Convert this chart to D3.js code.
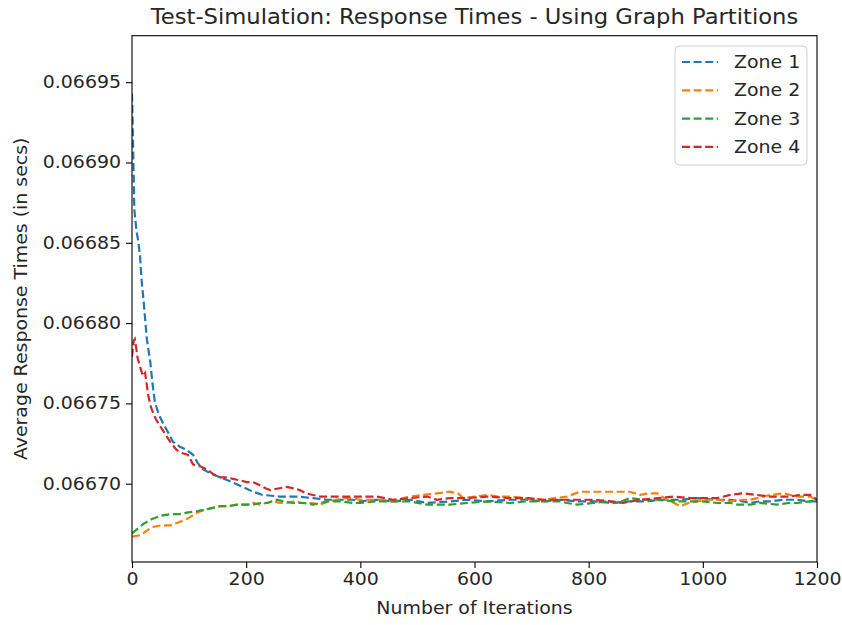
<!DOCTYPE html>
<html><head><meta charset="utf-8">
<script src="https://cdn.jsdelivr.net/npm/d3@7"></script>
<style>
body{margin:0;background:#fff;}
text{font-family:"DejaVu Sans",sans-serif;fill:#262626;}
</style></head>
<body><svg id="c" width="842" height="625"></svg>
<script>
const title = "Test-Simulation: Response Times - Using Graph Partitions";
const xLabel = "Number of Iterations";
const yLabel = "Average Response Times (in secs)";
const xTicks = [0, 200, 400, 600, 800, 1000, 1200];
const yTicks = [0.06670, 0.06675, 0.06680, 0.06685, 0.06690, 0.06695];
const seriesNames = ["Zone 1", "Zone 2", "Zone 3", "Zone 4"];
const seriesColors = ["#1f77b4", "#ff7f0e", "#2ca02c", "#d62728"];

// Zone 1 (blue)
const zone1Iter = [0,2,4,8,11,14,17,20,26,32,36,40,47,54,63,72,84,96,107,115,124,140,154,175,194,212,229,259,289,317,342,387,399,429,457,487,517,557,587,622,662,692,720,750,780,808,840,872,900,930,960,990,1025,1048,1070,1083,1100,1118,1140,1165,1188,1200];
const zone1Val = [0.066943,0.066909,0.066871,0.066857,0.066851,0.066842,0.066826,0.066815,0.066790,0.066776,0.066762,0.066751,0.066743,0.066738,0.066732,0.066726,0.066723,0.066721,0.066718,0.066713,0.066709,0.066706,0.066704,0.066701,0.066698,0.066695,0.066693,0.066692,0.066692,0.066691,0.066690,0.066690,0.066689,0.066690,0.066689,0.066690,0.066688,0.066689,0.066690,0.066689,0.066690,0.066690,0.066689,0.066690,0.066689,0.066689,0.066688,0.066689,0.066689,0.066690,0.066690,0.066691,0.066690,0.066690,0.066689,0.066688,0.066689,0.066689,0.066690,0.066690,0.066689,0.066689];

// Zone 2 (orange)
const zone2Iter = [0,15,35,50,67,82,96,105,114,128,142,155,166,185,201,212,224,235,247,260,271,285,299,315,329,345,359,373,387,399,430,457,485,510,534,557,571,580,600,622,642,662,690,720,740,762,785,808,832,850,872,890,905,920,937,950,960,975,990,1010,1025,1048,1070,1083,1095,1118,1141,1165,1188,1200];
const zone2Val = [0.066667,0.066668,0.066673,0.066674,0.066674,0.066676,0.066678,0.066680,0.066682,0.066684,0.066685,0.066686,0.066686,0.066687,0.066687,0.066688,0.066687,0.066688,0.066689,0.066688,0.066688,0.066689,0.066688,0.066688,0.066687,0.066689,0.066690,0.066691,0.066691,0.066690,0.066690,0.066689,0.066692,0.066693,0.066694,0.066695,0.066694,0.066691,0.066692,0.066693,0.066692,0.066692,0.066691,0.066690,0.066691,0.066692,0.066695,0.066695,0.066695,0.066695,0.066695,0.066693,0.066694,0.066694,0.066690,0.066688,0.066686,0.066688,0.066689,0.066690,0.066690,0.066689,0.066690,0.066690,0.066691,0.066693,0.066694,0.066692,0.066692,0.066690];

// Zone 3 (green)
const zone3Iter = [0,10,20,35,50,67,82,96,115,131,154,170,184,200,212,225,237,254,265,282,300,317,330,342,365,387,399,429,457,487,517,534,557,587,622,662,692,720,750,762,780,808,832,850,872,895,920,950,978,1000,1025,1048,1060,1083,1100,1130,1150,1165,1188,1200];
const zone3Val = [0.066669,0.066672,0.066675,0.066678,0.066680,0.066681,0.066681,0.066682,0.066683,0.066684,0.066686,0.066686,0.066687,0.066687,0.066687,0.066688,0.066688,0.066690,0.066689,0.066688,0.066688,0.066687,0.066688,0.066689,0.066689,0.066688,0.066688,0.066689,0.066689,0.066689,0.066687,0.066687,0.066687,0.066688,0.066689,0.066688,0.066689,0.066689,0.066689,0.066688,0.066687,0.066688,0.066689,0.066688,0.066691,0.066690,0.066690,0.066689,0.066689,0.066689,0.066688,0.066688,0.066687,0.066687,0.066688,0.066687,0.066688,0.066688,0.066689,0.066690];

// Zone 4 (red)
const zone4Iter = [0,3,5,8,10,14,19,23,28,32,35,42,49,58,67,78,89,98,107,118,131,142,154,165,177,190,201,212,224,235,242,256,271,285,294,305,317,330,342,365,387,399,429,457,487,517,534,557,587,622,662,692,720,750,780,808,840,860,890,920,950,978,1000,1025,1048,1070,1095,1118,1153,1170,1188,1200];
const zone4Val = [0.066779,0.066789,0.066790,0.066783,0.066778,0.066773,0.066767,0.066769,0.066756,0.066749,0.066746,0.066740,0.066736,0.066731,0.066726,0.066721,0.066719,0.066718,0.066712,0.066711,0.066709,0.066706,0.066704,0.066704,0.066703,0.066702,0.066701,0.066701,0.066699,0.066697,0.066696,0.066697,0.066698,0.066697,0.066696,0.066694,0.066693,0.066692,0.066692,0.066692,0.066692,0.066692,0.066692,0.066690,0.066691,0.066692,0.066690,0.066691,0.066691,0.066692,0.066691,0.066691,0.066690,0.066690,0.066690,0.066690,0.066689,0.066688,0.066690,0.066691,0.066692,0.066691,0.066691,0.066691,0.066693,0.066694,0.066693,0.066692,0.066692,0.066693,0.066693,0.066690];

const series = [
  {iter: zone1Iter, val: zone1Val},
  {iter: zone2Iter, val: zone2Val},
  {iter: zone3Iter, val: zone3Val},
  {iter: zone4Iter, val: zone4Val}
];

const svg = d3.select("#c");
const L = 132, R = 817, T = 35.7, B = 562;
const x = d3.scaleLinear().domain([0, 1200]).range([L, R]);
const y = d3.scaleLinear().domain([0.06665125, 0.06697894]).range([B, T]);

const fs = 17.2;
const SX = 1.1;
function stretch(sel) {
  sel.each(function() {
    const t = d3.select(this);
    const tx = +t.attr("x") || 0, ty = +t.attr("y") || 0;
    const prev = t.attr("transform");
    if (prev) t.attr("transform", prev + ` scale(${SX},1)`);
    else t.attr("transform", `translate(${tx},${ty}) scale(${SX},1) translate(${-tx},${-ty})`);
  });
}

const clip = svg.append("clipPath").attr("id","clp").append("rect")
  .attr("x", L).attr("y", T).attr("width", R-L).attr("height", B-T);
const line = d3.line().x(d => x(d[0])).y(d => y(d[1]));
series.forEach((s, i) => {
  const pts = s.iter.map((it, k) => [it, s.val[k]]);
  svg.append("path").datum(pts)
    .attr("d", line)
    .attr("clip-path", "url(#clp)")
    .attr("fill", "none")
    .attr("stroke", seriesColors[i])
    .attr("stroke-width", 2.2)
    .attr("stroke-dasharray", "8,3.6");
});

const xAxis = d3.axisBottom(x).tickValues(xTicks).tickSize(6).tickPadding(5).tickFormat(d3.format("d"));
const gx = svg.append("g").attr("transform", `translate(0,${B})`).call(xAxis);
const yAxis = d3.axisLeft(y).tickValues(yTicks).tickSize(6).tickPadding(5).tickFormat(d3.format(".5f"));
const gy = svg.append("g").attr("transform", `translate(${L},0)`).call(yAxis);
[gx, gy].forEach(g => {
  g.select(".domain").remove();
  g.selectAll(".tick line").attr("stroke", "#000").attr("stroke-width", 1.1);
  g.selectAll(".tick text").attr("font-size", fs).attr("font-family", "DejaVu Sans").attr("fill", "#262626");
  stretch(g.selectAll(".tick text"));
});

svg.append("rect").attr("x", L).attr("y", T).attr("width", R-L).attr("height", B-T)
  .attr("fill", "none").attr("stroke", "#000").attr("stroke-width", 1.1);

stretch(svg.append("text").attr("x", (L+R)/2).attr("y", 24).attr("text-anchor", "middle")
  .attr("font-size", 20.6).text(title));
stretch(svg.append("text").attr("x", (L+R)/2).attr("y", 614).attr("text-anchor", "middle")
  .attr("font-size", fs).text(xLabel));
stretch(svg.append("text").attr("transform", `translate(27,${(T+B)/2}) rotate(-90)`)
  .attr("text-anchor", "middle").attr("font-size", fs).text(yLabel));

const lg = svg.append("g");
lg.append("rect").attr("x", 675).attr("y", 46).attr("width", 132).attr("height", 119)
  .attr("rx", 4).attr("fill", "#fff").attr("fill-opacity", 0.8)
  .attr("stroke", "#d0d0d0").attr("stroke-width", 1);
seriesNames.forEach((n, i) => {
  const yy = 62 + i * 28.3;
  lg.append("line").attr("x1", 682).attr("x2", 718).attr("y1", yy).attr("y2", yy)
    .attr("stroke", seriesColors[i]).attr("stroke-width", 2.2).attr("stroke-dasharray", "8,3.6");
  stretch(lg.append("text").attr("x", 734).attr("y", yy).attr("dy", "0.36em")
    .attr("font-size", fs).text(n));
});
</script></body></html>
